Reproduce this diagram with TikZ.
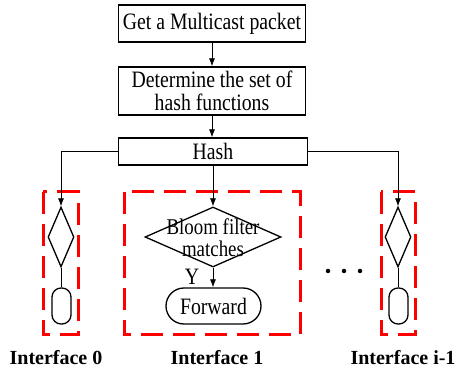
\documentclass[tikz,border=0pt]{standalone}
\usepackage{fontspec}
\setmainfont{Liberation Serif}
\newfontfamily\cfont{Liberation Serif}[FakeStretch=0.84]
\usetikzlibrary{shapes.geometric,arrows.meta}
\begin{document}
\begin{tikzpicture}[x=1pt,y=-1pt,
  txt/.style={font=\cfont\fontsize{23.5}{23.5}\selectfont},
  procbox/.style={draw,line width=1.3pt,inner sep=0pt,txt,align=center},
  dec/.style={draw,diamond,line width=1.3pt,inner sep=0pt},
  term/.style={draw,line width=1.3pt,inner sep=0pt},
  arr/.style={line width=0.8pt,-{Latex[length=8pt,width=6pt]}},
  plain/.style={line width=0.8pt},
  ifbox/.style={draw=red,line width=3pt,dash pattern=on 22pt off 10pt},
  lab/.style={font=\fontsize{20}{22}\selectfont\bfseries}]
\useasboundingbox (0,0) rectangle (456,371);
\node[procbox,minimum width=187pt,minimum height=37pt] (b1) at (212,23.5) {Get a Multicast packet};
\node[procbox,minimum width=187pt,minimum height=48pt] (b2) at (212,91) {Determine the set of\\hash functions};
\node[procbox,minimum width=189pt,minimum height=27pt] (h) at (213,151.5) {Hash};
% interface boxes
\draw[ifbox] (43,192) rectangle (78,335);
\draw[ifbox] (124,192) rectangle (300,335);
\draw[ifbox] (381,192) rectangle (415,335);
% decisions
\node[dec,minimum width=26pt,minimum height=60pt] (d0) at (61,237) {};
\node[dec,minimum width=136pt,minimum height=60pt] (d1) at (213,237) {};
\node[align=center,font=\cfont\fontsize{22.5}{22}\selectfont] (d1t) at (213,238) {Bloom filter\\matches};
\node[dec,minimum width=26pt,minimum height=60pt] (d2) at (398,237) {};
% terminals
\node[term,minimum width=19pt,minimum height=36pt,rounded corners=9pt] (t0) at (61.5,306) {};
\node[term,minimum width=95pt,minimum height=36pt,rounded corners=18pt,txt] (t1) at (213.5,306) {Forward};
\node[term,minimum width=19pt,minimum height=36pt,rounded corners=9pt] (t2) at (398.5,306) {};
% connectors
\draw[arr] (b1) -- (b2);
\draw[arr] (b2.south) -- (b2.south |- h.north);
\draw[arr] (h.west) -| (d0.north);
\draw[arr] (h.east) -| (d2.north);
\draw[arr] (h.south) -- (d1.north);
\draw[arr] (d1.south) -- (d1.south |- t1.north);
\draw[plain] (d0.south) -- (d0.south |- t0.north);
\draw[plain] (d2.south) -- (d2.south |- t2.north);
\node[txt] (y) at (192,277) {Y};
% dots
\foreach \xx/\nn in {328/a,344/b,360/c} \node[circle,fill,inner sep=0pt,minimum size=4.5pt] (dot\nn) at (\xx,271) {};
% labels
\node[lab] (l0) at (56,358) {Interface 0};
\node[lab] (l1) at (217,358) {Interface 1};
\node[lab] (l2) at (403,358) {Interface i-1};
\end{tikzpicture}
\end{document}
